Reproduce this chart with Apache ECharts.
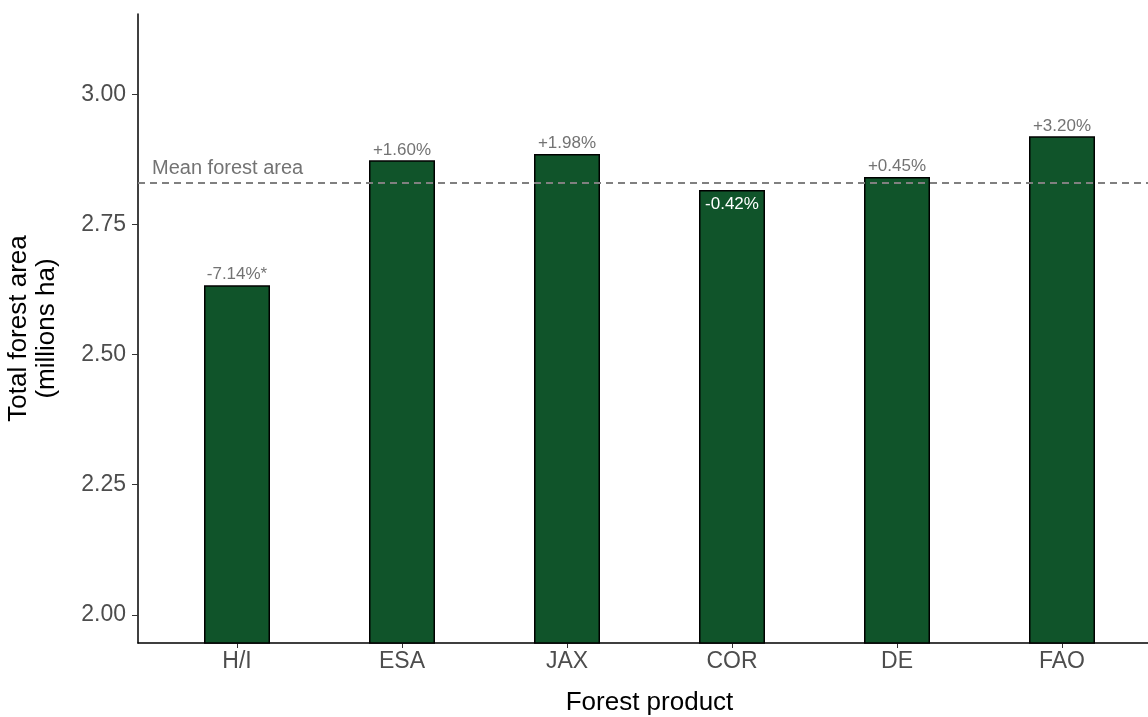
<!DOCTYPE html>
<html>
<head>
<meta charset="utf-8">
<script src="https://cdn.jsdelivr.net/npm/echarts@6/dist/echarts.min.js"></script>
<style>
  html, body { margin: 0; padding: 0; background: #fff; }
  #chart { width: 1148px; height: 717px; }
</style>
</head>
<body>
<div id="chart"></div>
<script>
const categories = ['H/I', 'ESA', 'JAX', 'COR', 'DE', 'FAO']
const forestArea = [2.633, 2.873, 2.885, 2.816, 2.841, 2.919]
const diffLabels = ['-7.14%*', '+1.60%', '+1.98%', '-0.42%', '+0.45%', '+3.20%']
const yTicks = [2.00, 2.25, 2.50, 2.75, 3.00]
const meanArea = 2.828

const chart = echarts.init(document.getElementById('chart'))

const barData = forestArea.map((v, i) => {
  const item = { value: [i + 1, v] }
  // COR is below the mean, label sits inside the bar
  if (i === 3) {
    item.label = { position: 'insideTop', color: '#ffffff', distance: 6 }
  }
  return item
})

const option = {
  animation: false,
  grid: { left: 138, top: 14, width: 1023, height: 629, outerBoundsMode: 'none' },
  xAxis: {
    type: 'value',
    min: 0.4,
    max: 6.6,
    name: 'Forest product',
    nameLocation: 'middle',
    nameGap: 47,
    nameTextStyle: { color: '#000', fontSize: 26, fontFamily: 'Liberation Sans' },
    splitLine: { show: false },
    axisLine: { show: true, lineStyle: { color: '#000', width: 1.5 } },
    axisTick: { show: true, customValues: [1, 2, 3, 4, 5, 6], length: 5, lineStyle: { color: '#333' } },
    axisLabel: {
      customValues: [1, 2, 3, 4, 5, 6],
      formatter: v => categories[Math.round(v) - 1],
      color: '#4d4d4d',
      fontSize: 23,
      fontFamily: 'Liberation Sans',
      margin: 7
    }
  },
  yAxis: {
    type: 'value',
    min: 1.946,
    max: 3.154,
    name: 'Total forest area\n(millions ha)',
    nameLocation: 'middle',
    nameGap: 77,
    nameRotate: 90,
    nameTextStyle: { color: '#000', fontSize: 26, fontFamily: 'Liberation Sans', lineHeight: 28 },
    splitLine: { show: false },
    axisLine: { show: true, lineStyle: { color: '#000', width: 1.5 } },
    axisTick: { show: true, customValues: yTicks, length: 6, lineStyle: { color: '#333' } },
    axisLabel: {
      customValues: yTicks,
      formatter: v => v.toFixed(2),
      color: '#4d4d4d',
      fontSize: 23,
      fontFamily: 'Liberation Sans',
      margin: 12
    }
  },
  series: [{
    type: 'bar',
    data: barData,
    barWidth: 66,
    clip: true,
    itemStyle: { color: '#10542a', borderColor: '#000', borderWidth: 1.5 },
    label: {
      show: true,
      position: 'top',
      distance: 2,
      color: '#737373',
      fontSize: 17,
      fontFamily: 'Liberation Sans',
      formatter: p => diffLabels[p.dataIndex]
    },
    markLine: {
      silent: true,
      symbol: 'none',
      z: 10,
      lineStyle: { color: '#808080', type: [7, 5], width: 2 },
      label: {
        show: true,
        position: 'insideStartTop',
        formatter: 'Mean forest area',
        color: '#737373',
        fontSize: 20,
        fontFamily: 'Liberation Sans',
        distance: [14, 4]
      },
      data: [{ yAxis: meanArea }]
    }
  }]
}

chart.setOption(option)
</script>
</body>
</html>
